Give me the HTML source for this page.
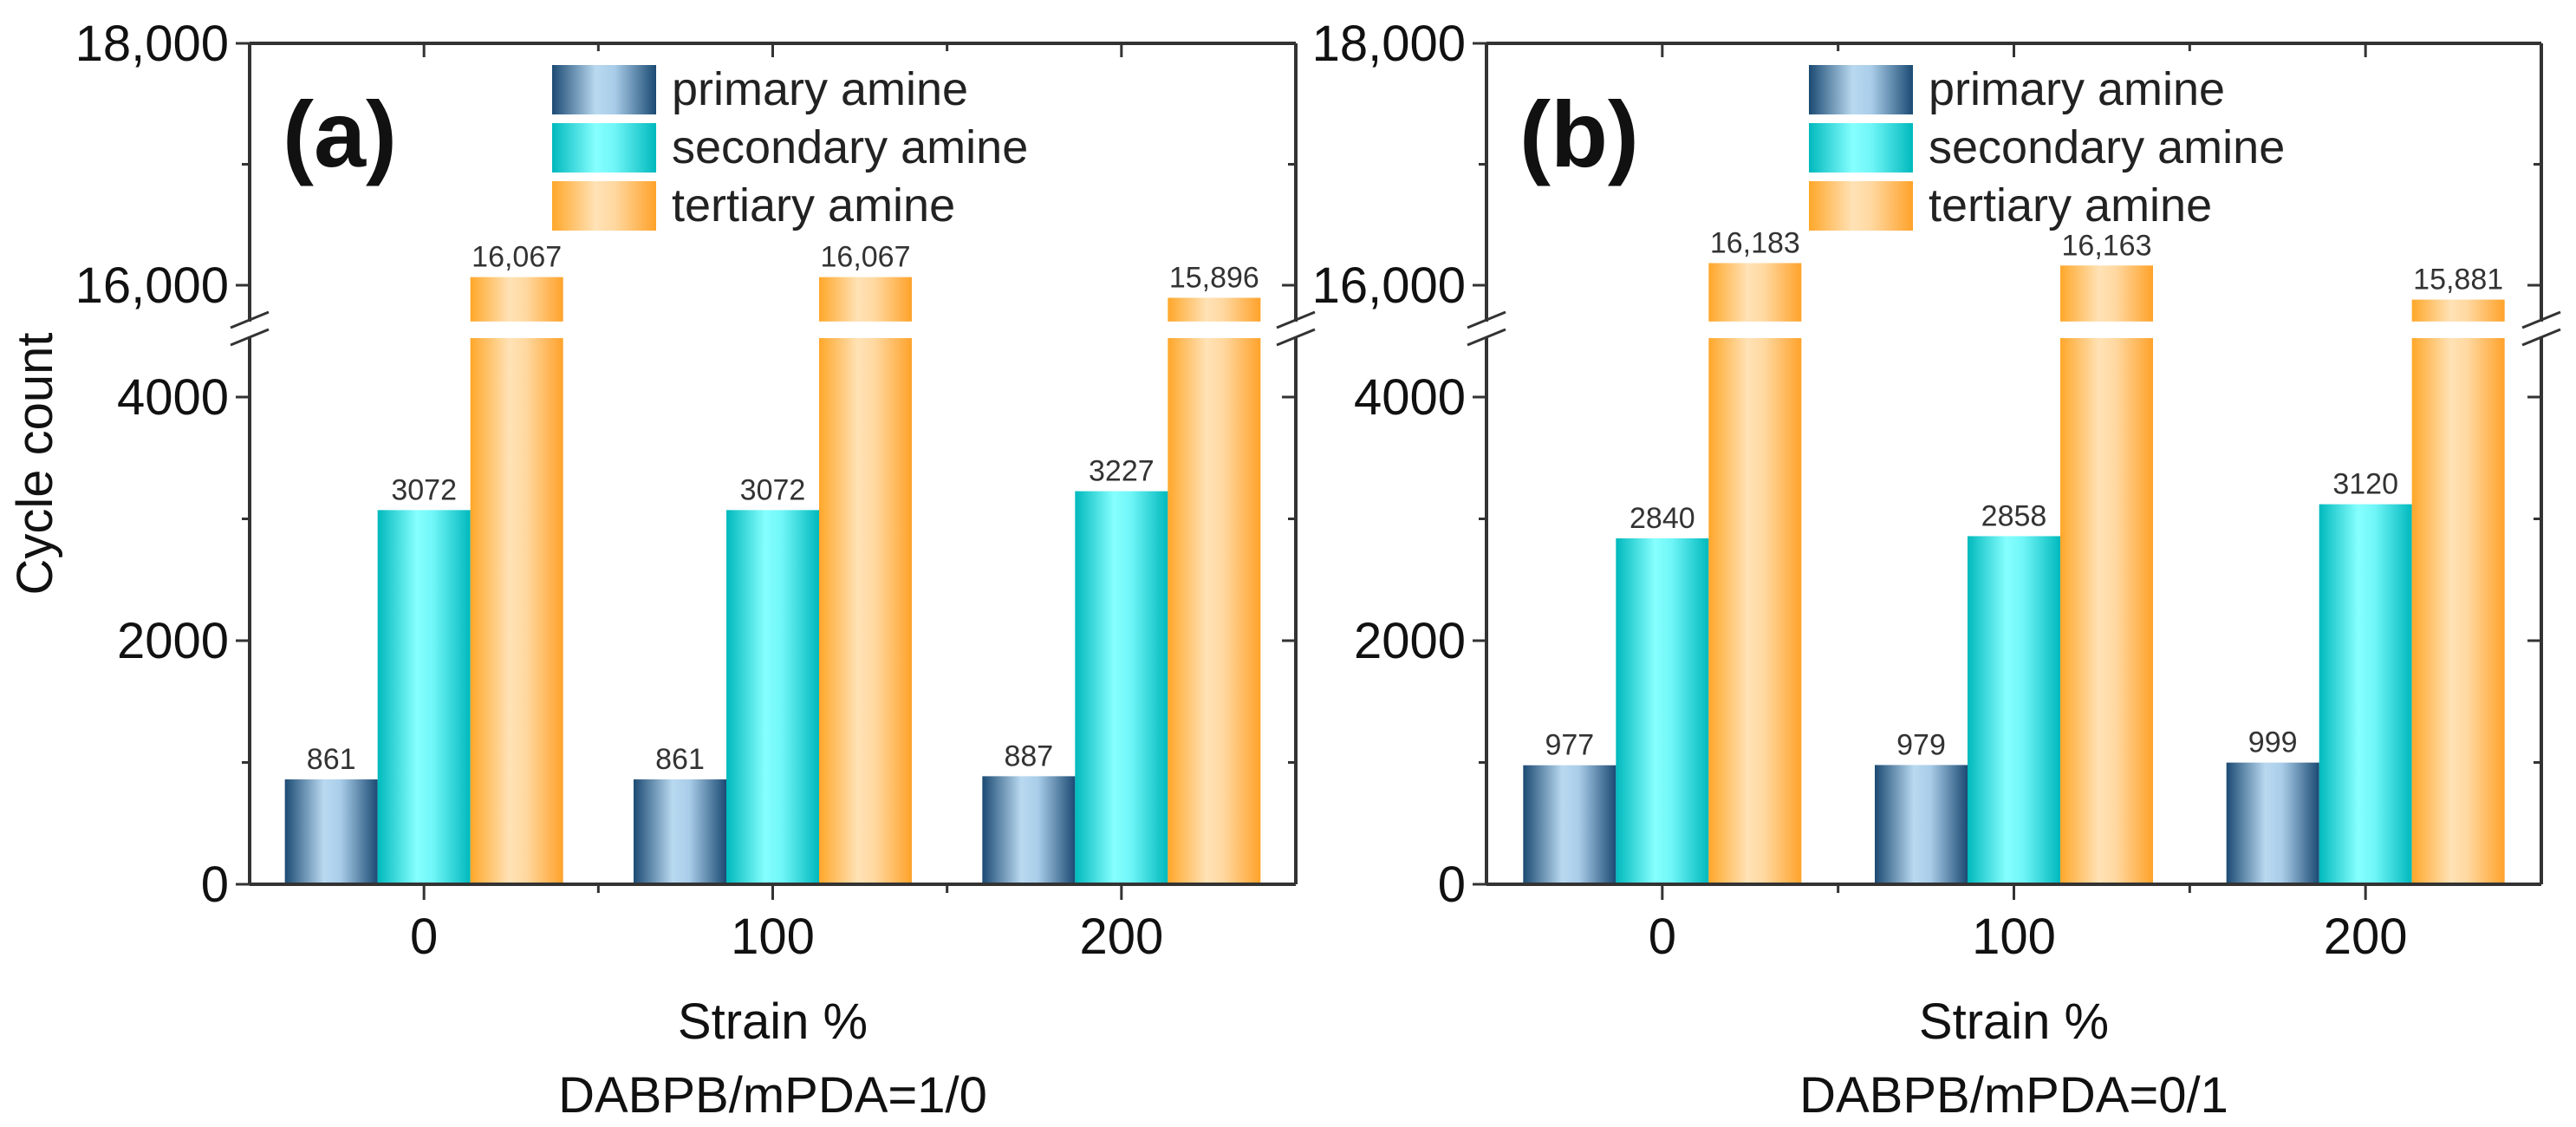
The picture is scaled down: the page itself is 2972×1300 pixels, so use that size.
<!DOCTYPE html>
<html><head><meta charset="utf-8">
<style>
html,body{margin:0;padding:0;background:#fff;}
svg{display:block;font-family:"Liberation Sans",Arial,sans-serif;}
</style></head>
<body>
<svg id="chart" width="2972" height="1300" viewBox="0 0 2972 1300" xmlns="http://www.w3.org/2000/svg">
<defs>
<linearGradient id="gPrim" x1="0" x2="1" y1="0" y2="0">
<stop offset="0" stop-color="#1b4a73"/><stop offset="0.42" stop-color="#b9d9f0"/><stop offset="0.6" stop-color="#a9cde9"/><stop offset="1" stop-color="#1b4a73"/></linearGradient>
<linearGradient id="gSec" x1="0" x2="1" y1="0" y2="0">
<stop offset="0" stop-color="#00b9bd"/><stop offset="0.42" stop-color="#86ffff"/><stop offset="0.6" stop-color="#70f6f8"/><stop offset="1" stop-color="#00b9bd"/></linearGradient>
<linearGradient id="gTer" x1="0" x2="1" y1="0" y2="0">
<stop offset="0" stop-color="#ffa72a"/><stop offset="0.42" stop-color="#ffe2b6"/><stop offset="0.6" stop-color="#ffd8a0"/><stop offset="1" stop-color="#ffa22a"/></linearGradient>
</defs>
<text x="60" y="535" font-size="58" fill="#111" text-anchor="middle" transform="rotate(-90 60 535)">Cycle count</text>
</svg>
<script>
const categories = ["0", "100", "200"];
const seriesNames = ["primary amine", "secondary amine", "tertiary amine"];
const primaryA = [861, 861, 887];
const secondaryA = [3072, 3072, 3227];
const tertiaryA = [16067, 16067, 15896];
const primaryB = [977, 979, 999];
const secondaryB = [2840, 2858, 3120];
const tertiaryB = [16183, 16163, 15881];
const lowerTicks = [0, 2000, 4000];
const upperTicks = [16000, 18000];
const lowerLabels = ["0", "2000", "4000"];
const upperLabels = ["16,000", "18,000"];

const NS = "http://www.w3.org/2000/svg";
const svg = document.getElementById("chart");
function mk(tag, attrs, parent) {
  const e = document.createElementNS(NS, tag);
  for (const k in attrs) e.setAttribute(k, attrs[k]);
  (parent || svg).appendChild(e);
  return e;
}
const grads = ["url(#gPrim)", "url(#gSec)", "url(#gTer)"];
const BREAK_LO = 4484, BREAK_HI = 15700;
function yLower(v) { return 1020 - v * 0.1405; }
function yUpper(v) { return 329 - (v - 16000) * 0.1395; }
function yVal(v) { return v <= BREAK_LO ? yLower(v) : yUpper(v); }
function fmt(v) { return v >= 10000 ? v.toLocaleString("en-US") : String(v); }

function panel(left, right, letter, series, subtitle, legX) {
  const g = mk("g", {});
  
  
  const top = 50, bottom = 1020;
  const step = (right - left) / categories.length;
  const bw = 107;
  function xCenter(i) { return left + (i + 0.5) * step; }
  series.forEach((vals, s) => {
    vals.forEach((v, i) => {
      const x = xCenter(i) + (s - 1) * bw - bw / 2;
      if (v > BREAK_LO) {
        const r1 = mk("rect", {x: x, y: yLower(BREAK_LO), width: bw, height: bottom - yLower(BREAK_LO), fill: grads[s]}, g);
        
        
        const r2 = mk("rect", {x: x, y: yUpper(v), width: bw, height: yUpper(BREAK_HI) - yUpper(v), fill: grads[s]}, g);
        
        
      } else {
        const r = mk("rect", {x: x, y: yLower(v), width: bw, height: bottom - yLower(v), fill: grads[s]}, g);
        
        
      }
      const t = mk("text", {x: x + bw / 2, y: yVal(v) - 12, "font-size": 34, fill: "#333", "text-anchor": "middle"}, g);
      t.textContent = fmt(v);
      
      
    });
  });
  const st = {stroke: "#333", "stroke-width": 4, fill: "none"};
  mk("line", Object.assign({x1: left, y1: top, x2: right, y2: top}, st), g);
  mk("line", Object.assign({x1: left, y1: bottom, x2: right, y2: bottom}, st), g);
  mk("line", Object.assign({x1: left, y1: top, x2: left, y2: bottom}, st), g);
  mk("line", Object.assign({x1: right, y1: top, x2: right, y2: bottom}, st), g);
  const by = 380;
  [left, right].forEach(xx => {
    mk("rect", {x: xx - 6, y: by - 9, width: 12, height: 18, fill: "#fff"}, g);
    mk("line", {x1: xx - 22, y1: by - 2, x2: xx + 22, y2: by - 20, stroke: "#333", "stroke-width": 3}, g);
    mk("line", {x1: xx - 22, y1: by + 18, x2: xx + 22, y2: by, stroke: "#333", "stroke-width": 3}, g);
  });
  const yt = [];
  lowerTicks.forEach((v, i) => yt.push([yLower(v), lowerLabels[i], true]));
  upperTicks.forEach((v, i) => yt.push([yUpper(v), upperLabels[i], true]));
  [1000, 3000].forEach(v => yt.push([yLower(v), null, false]));
  yt.push([yUpper(17000), null, false]);
  yt.forEach(([y, lab, major]) => {
    const len = major ? 16 : 9;
    mk("line", {x1: left - len, y1: y, x2: left, y2: y, stroke: "#333", "stroke-width": 3}, g);
    mk("line", {x1: right - len, y1: y, x2: right, y2: y, stroke: "#333", "stroke-width": 3}, g);
    if (lab) {
      const t = mk("text", {x: left - 24, y: y + 20, "font-size": 58, fill: "#111", "text-anchor": "end"}, g);
      t.textContent = lab;
      
      
    }
  });
  categories.forEach((c, i) => {
    const xc = xCenter(i);
    mk("line", {x1: xc, y1: bottom, x2: xc, y2: bottom + 18, stroke: "#333", "stroke-width": 3}, g);
    mk("line", {x1: xc, y1: top, x2: xc, y2: top + 16, stroke: "#333", "stroke-width": 3}, g);
    const t = mk("text", {x: xc, y: 1100, "font-size": 58, fill: "#111", "text-anchor": "middle"}, g);
    t.textContent = c;
    
    
  });
  for (let i = 1; i < categories.length; i++) {
    const xb = left + i * step;
    mk("line", {x1: xb, y1: bottom, x2: xb, y2: bottom + 10, stroke: "#333", "stroke-width": 3}, g);
    mk("line", {x1: xb, y1: top, x2: xb, y2: top + 9, stroke: "#333", "stroke-width": 3}, g);
  }
  const mid = (left + right) / 2;
  const xt = mk("text", {x: mid, y: 1198, "font-size": 58, fill: "#111", "text-anchor": "middle"}, g);
  xt.textContent = "Strain %";
  
  
  const sub = mk("text", {x: mid, y: 1283, "font-size": 58, fill: "#111", "text-anchor": "middle"}, g);
  sub.textContent = subtitle;
  
  
  const pl = mk("text", {x: left + 38, y: 192, "font-size": 108, "font-weight": "bold", fill: "#111"}, g);
  pl.textContent = "(" + letter + ")";
  
  
  seriesNames.forEach((n, s) => {
    const y = 75 + s * 67;
    const r = mk("rect", {x: legX, y: y, width: 120, height: 57, fill: grads[s]}, g);
    
    
    const t = mk("text", {x: legX + 138, y: y + 46, "font-size": 54, fill: "#222"}, g);
    t.textContent = n;
    
    
  });
}
panel(288, 1495, "a", [primaryA, secondaryA, tertiaryA], "DABPB/mPDA=1/0", 637);
panel(1715, 2932, "b", [primaryB, secondaryB, tertiaryB], "DABPB/mPDA=0/1", 2087);
</script>
</body></html>
